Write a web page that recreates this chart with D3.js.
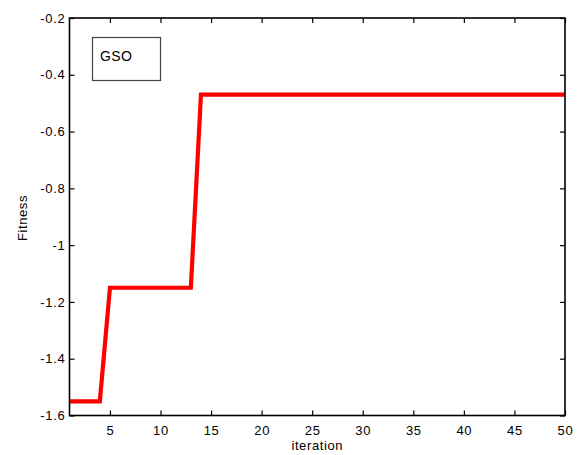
<!DOCTYPE html>
<html><head><meta charset="utf-8">
<script src="https://cdn.jsdelivr.net/npm/d3@7"></script>
<style>body{margin:0;background:#fff}svg{display:block}text{font-family:"Liberation Sans",Arial,sans-serif}</style>
</head><body>
<svg id="c" width="579" height="455"></svg>
<script>
const iterations = d3.range(1, 51);
const fitness = iterations.map(i => i <= 4 ? -1.55 : (i <= 13 ? -1.15 : -0.47));
const xTicks = [5,10,15,20,25,30,35,40,45,50];
const yTicks = [-1.6,-1.4,-1.2,-1,-0.8,-0.6,-0.4,-0.2];
const seriesName = "GSO";

const svg = d3.select("#c");
const L = 69.5, R = 565, T = 18, B = 415.5;
const x = d3.scaleLinear().domain([1, 50]).range([L, R]);
const y = d3.scaleLinear().domain([-1.6, -0.2]).range([B, T]);

svg.append("rect").attr("x", L).attr("y", T).attr("width", R - L).attr("height", B - T)
  .attr("fill", "#fff");

svg.append("path").datum(iterations.map((d, i) => [d, fitness[i]]))
  .attr("fill", "none").attr("stroke", "#ff0000").attr("stroke-width", 4.2)
  .attr("stroke-linejoin", "miter")
  .attr("d", d3.line().x(d => x(d[0])).y(d => y(d[1])));

const fmt = d => String(d);
const gx = svg.append("g").attr("transform", `translate(0,${B})`)
  .call(d3.axisBottom(x).tickValues(xTicks).tickSize(-5).tickPadding(10).tickFormat(fmt));
const gxt = svg.append("g").attr("transform", `translate(0,${T})`)
  .call(d3.axisTop(x).tickValues(xTicks).tickSize(-5).tickFormat(""));
const gy = svg.append("g").attr("transform", `translate(${L},0)`)
  .call(d3.axisLeft(y).tickValues(yTicks).tickSize(-5).tickPadding(4).tickFormat(fmt));
const gyr = svg.append("g").attr("transform", `translate(${R},0)`)
  .call(d3.axisRight(y).tickValues(yTicks).tickSize(-5).tickFormat(""));
[gx, gxt, gy, gyr].forEach(g => {
  g.select(".domain").remove();
  g.selectAll("line").attr("stroke", "#000").attr("stroke-width", 1.2);
  g.selectAll("text").attr("font-size", 13).attr("fill", "#000").attr("letter-spacing", 0.7)
    .attr("font-family", '"Liberation Sans", Arial, sans-serif');
});
svg.append("rect").attr("x", L).attr("y", T).attr("width", R - L).attr("height", B - T)
  .attr("fill", "none").attr("stroke", "#000").attr("stroke-width", 1.6);

svg.append("text").attr("x", (L + R) / 2).attr("y", 450).attr("text-anchor", "middle")
  .attr("font-size", 13).attr("letter-spacing", 0.6).text("iteration");
svg.append("text").attr("transform", `translate(27,218) rotate(-90)`)
  .attr("text-anchor", "middle").attr("font-size", 13).attr("letter-spacing", 0.6).text("Fitness");

svg.append("rect").attr("x", 92.5).attr("y", 37.5).attr("width", 68).attr("height", 43)
  .attr("fill", "#fff").attr("stroke", "#444").attr("stroke-width", 1.2);
svg.append("text").attr("x", 100).attr("y", 60.5).attr("font-size", 14).attr("letter-spacing", 0.4).text(seriesName);
</script>
</body></html>
